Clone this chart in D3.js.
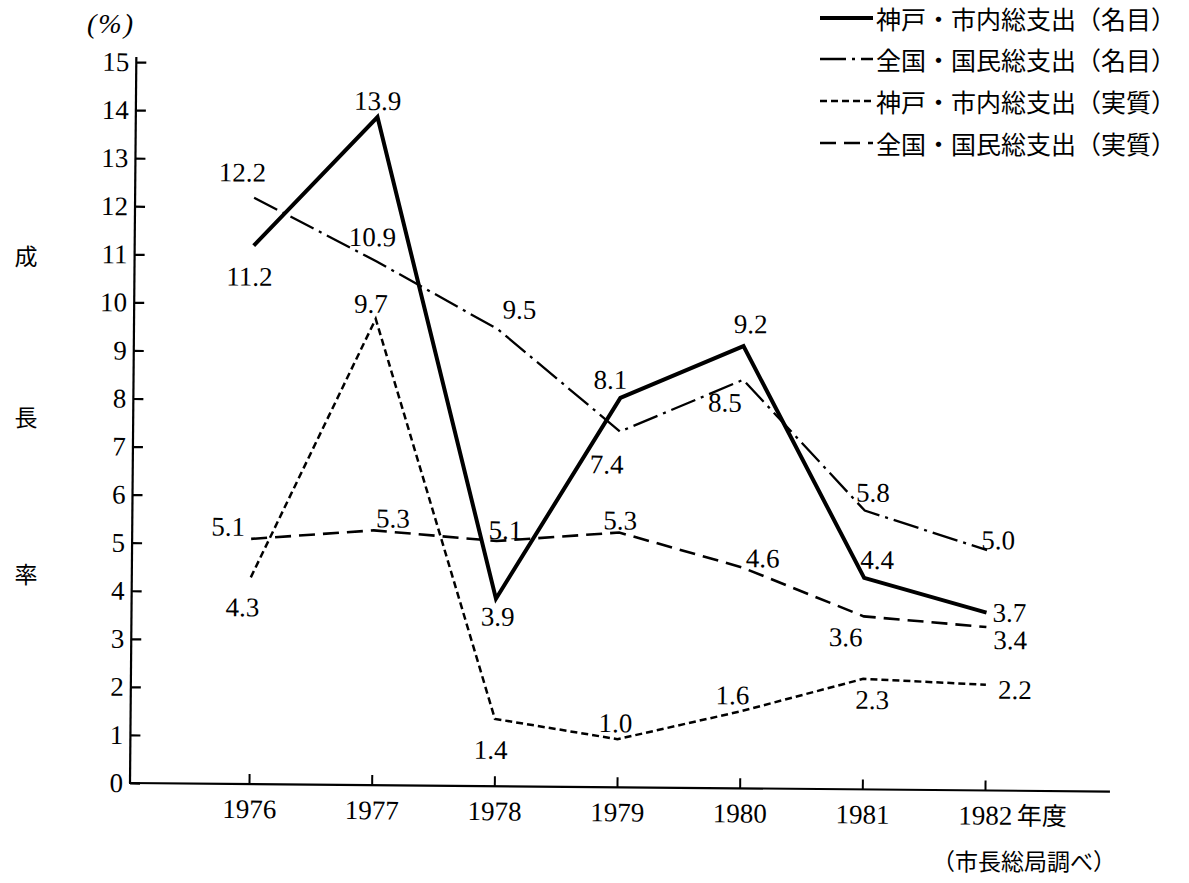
<!DOCTYPE html>
<html>
<head>
<meta charset="utf-8">
<script src="https://cdn.jsdelivr.net/npm/d3@7"></script>
<style>
  html, body { margin: 0; padding: 0; background: #fff; }
  svg { display: block; }
</style>
</head>
<body>
<svg id="chart" width="1189" height="883"></svg>
<script>
// ---- data ----
const years = ["1976", "1977", "1978", "1979", "1980", "1981", "1982"];
const kobeNominal = [11.2, 13.9, 3.9, 8.1, 9.2, 4.4, 3.7];
const nationalNominal = [12.2, 10.9, 9.5, 7.4, 8.5, 5.8, 5.0];
const kobeReal = [4.3, 9.7, 1.4, 1.0, 1.6, 2.3, 2.2];
const nationalReal = [5.1, 5.3, 5.1, 5.3, 4.6, 3.6, 3.4];
const yTicks = [0, 1, 2, 3, 4, 5, 6, 7, 8, 9, 10, 11, 12, 13, 14, 15];
const seriesNames = [
  "神戸・市内総支出（名目）",
  "全国・国民総支出（名目）",
  "神戸・市内総支出（実質）",
  "全国・国民総支出（実質）"
];
const yTitle = ["成", "長", "率"];
const unitLabel = "(%)";
const xSuffix = "年度";
const sourceNote = "（市長総局調べ）";

// ---- label placement (offsets from points, px) ----
const labelOffsets = [
  [[-4, 31], [0, -16], [2, 18], [-10, -18], [7, -22], [13, -18], [23, 0]],
  [[-12, -25], [-4, -24], [21, -20], [-13, 33], [-18, 23], [8, -18], [11, -10]],
  [[-8, 30], [-5, -15], [-4, 31], [-2, -16], [-8, -16], [9, 21], [29, 5]],
  [[-23, -12], [19, -12], [9, -11], [1, -12], [21, -9], [-18, 21], [24, 13]]
];

const styles = [
  { width: 4, dash: null },
  { width: 2.3, dash: "26,6,3,6" },
  { width: 2.5, dash: "7,4" },
  { width: 2.6, dash: "16,8" }
];

const series = [kobeNominal, nationalNominal, kobeReal, nationalReal];

const svg = d3.select("#chart");
const numFont = "'Liberation Serif', 'DejaVu Serif', serif";
const cjkFont = "'Noto Sans CJK JP', 'Noto Sans', sans-serif";

const x = d3.scalePoint().domain(years).range([249, 985]);
const y = d3.scaleLinear().domain([0, 15]).range([783, 62]);

const g = svg.append("g").attr("transform", "rotate(0.5, 130, 783)");

// y axis
const yAxis = g.append("g")
  .attr("transform", "translate(130,0)")
  .call(d3.axisLeft(y).tickValues(yTicks).tickSizeInner(-10).tickSizeOuter(0).tickPadding(7));
yAxis.select(".domain").remove();
yAxis.selectAll(".tick line").attr("stroke", "#000").attr("stroke-width", 2.2);
yAxis.selectAll(".tick text").attr("font-family", numFont).attr("font-size", 27).attr("fill", "#000");
g.append("line").attr("x1", 130).attr("x2", 130).attr("y1", y(15) - 5).attr("y2", y(0))
  .attr("stroke", "#000").attr("stroke-width", 2.2);

// x axis
const xAxis = g.append("g")
  .attr("transform", `translate(0,${y(0)})`)
  .call(d3.axisBottom(x).tickSizeInner(-10).tickSizeOuter(0).tickPadding(15));
xAxis.select(".domain").remove();
xAxis.selectAll(".tick line").attr("stroke", "#000").attr("stroke-width", 2);
xAxis.selectAll(".tick text").attr("font-family", numFont).attr("font-size", 27).attr("fill", "#000");
g.append("line").attr("x1", 129).attr("x2", 1110).attr("y1", y(0)).attr("y2", y(0))
  .attr("stroke", "#000").attr("stroke-width", 2.2);

g.append("text")
  .attr("x", x("1982") + 32).attr("y", y(0) + 34)
  .attr("font-family", cjkFont).attr("font-size", 25).attr("fill", "#000")
  .text(xSuffix);

// lines
const line = d3.line().x((d, i) => x(years[i])).y(d => y(d));
series.forEach((vals, si) => {
  const p = g.append("path")
    .datum(vals)
    .attr("d", line)
    .attr("fill", "none")
    .attr("stroke", "#000")
    .attr("stroke-width", styles[si].width)
    .attr("stroke-linejoin", "miter");
  if (styles[si].dash) p.attr("stroke-dasharray", styles[si].dash);
});

// value labels
series.forEach((vals, si) => {
  g.append("g").selectAll("text")
    .data(vals)
    .join("text")
    .attr("x", (d, i) => x(years[i]) + labelOffsets[si][i][0])
    .attr("y", (d, i) => y(d) + labelOffsets[si][i][1])
    .attr("text-anchor", "middle")
    .attr("dominant-baseline", "central")
    .attr("font-family", numFont)
    .attr("font-size", 27)
    .attr("fill", "#000")
    .text(d => d.toFixed(1));
});

// unit label
svg.append("text")
  .attr("x", 111).attr("y", 23)
  .attr("text-anchor", "middle").attr("dominant-baseline", "central")
  .attr("font-family", numFont).attr("font-size", 28).attr("font-style", "italic")
  .attr("letter-spacing", 2)
  .attr("fill", "#000")
  .text(unitLabel);

// y title
const yTitleY = [255, 416, 573];
svg.append("g").selectAll("text")
  .data(yTitle)
  .join("text")
  .attr("x", 26).attr("y", (d, i) => yTitleY[i])
  .attr("text-anchor", "middle").attr("dominant-baseline", "central")
  .attr("font-family", cjkFont).attr("font-size", 23).attr("fill", "#000")
  .text(d => d);

// legend
const legendY = [18, 59, 101, 143];
const leg = svg.append("g");
seriesNames.forEach((name, i) => {
  const l = leg.append("line")
    .attr("x1", 820).attr("x2", 873)
    .attr("y1", legendY[i]).attr("y2", legendY[i])
    .attr("stroke", "#000").attr("stroke-width", styles[i].width);
  if (styles[i].dash) l.attr("stroke-dasharray", styles[i].dash);
  leg.append("text")
    .attr("x", 876).attr("y", legendY[i])
    .attr("dominant-baseline", "central")
    .attr("font-family", cjkFont).attr("font-size", 25).attr("fill", "#000")
    .text(name);
});

// source
svg.append("text")
  .attr("x", 1024).attr("y", 860)
  .attr("text-anchor", "middle").attr("dominant-baseline", "central")
  .attr("font-family", cjkFont).attr("font-size", 23).attr("fill", "#000")
  .text(sourceNote);
</script>
</body>
</html>
